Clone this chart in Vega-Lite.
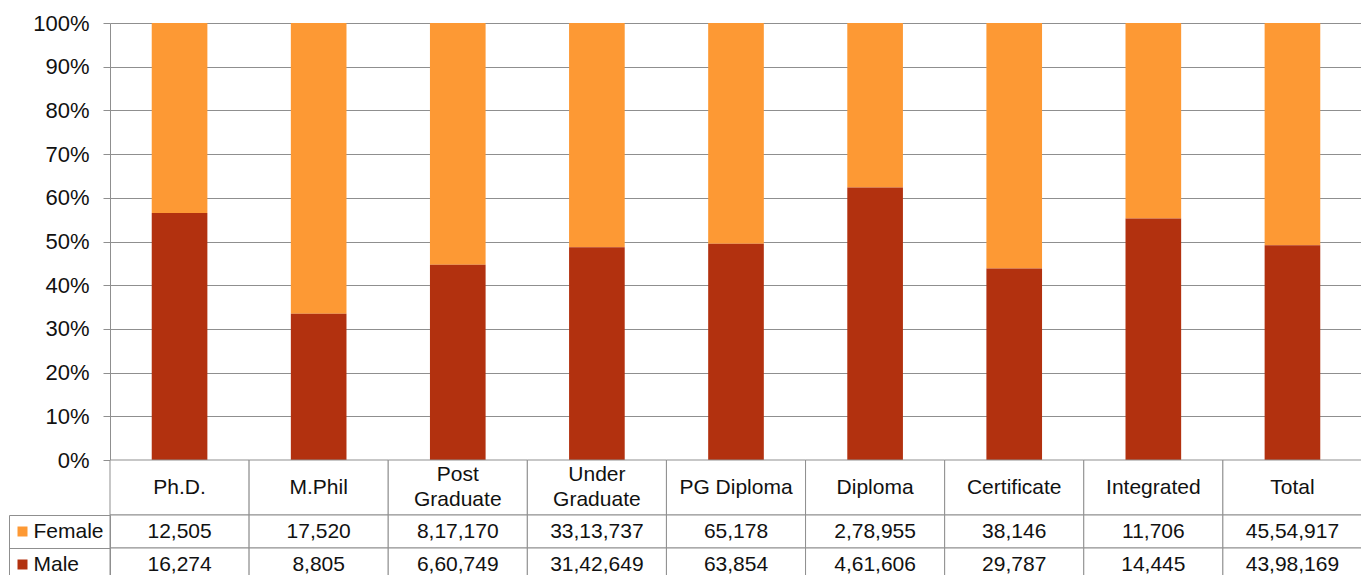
{
  "$schema": "https://vega.github.io/schema/vega-lite/v6.json",
  "padding": {"left": 8, "top": 12, "right": 0, "bottom": 0},
  "autosize": {"type": "pad"},
  "background": "white",
  "config": {"font": "Liberation Sans", "view": {"stroke": null}},
  "data": {
    "values": [
      {"category": "Ph.D.", "sex": "Female", "students": 12505},
      {"category": "Ph.D.", "sex": "Male", "students": 16274},
      {"category": "M.Phil", "sex": "Female", "students": 17520},
      {"category": "M.Phil", "sex": "Male", "students": 8805},
      {"category": "Post Graduate", "sex": "Female", "students": 817170},
      {"category": "Post Graduate", "sex": "Male", "students": 660749},
      {"category": "Under Graduate", "sex": "Female", "students": 3313737},
      {"category": "Under Graduate", "sex": "Male", "students": 3142649},
      {"category": "PG\u00a0Diploma", "sex": "Female", "students": 65178},
      {"category": "PG\u00a0Diploma", "sex": "Male", "students": 63854},
      {"category": "Diploma", "sex": "Female", "students": 278955},
      {"category": "Diploma", "sex": "Male", "students": 461606},
      {"category": "Certificate", "sex": "Female", "students": 38146},
      {"category": "Certificate", "sex": "Male", "students": 29787},
      {"category": "Integrated", "sex": "Female", "students": 11706},
      {"category": "Integrated", "sex": "Male", "students": 14445},
      {"category": "Total", "sex": "Female", "students": 4554917},
      {"category": "Total", "sex": "Male", "students": 4398169}
    ]
  },
  "spacing": 0,
  "bounds": "flush",
  "vconcat": [
    {
      "width": 1252,
      "height": 437,
      "mark": {"type": "bar", "width": {"band": 0.4}},
      "encoding": {
        "x": {"field": "category", "type": "nominal", "sort": null, "scale": {"paddingInner": 0, "paddingOuter": 0}, "axis": null},
        "y": {
          "field": "students", "type": "quantitative", "stack": "normalize",
          "scale": {"domain": [0, 1]},
          "axis": {
            "title": null, "format": "%", "values": [0, 0.1, 0.2, 0.3, 0.4, 0.5, 0.6, 0.7, 0.8, 0.9, 1],
            "grid": true, "gridColor": "#8f8f8f", "domainColor": "#8f8f8f", "tickColor": "#8f8f8f",
            "tickSize": 7, "labelPadding": 14, "labelFontSize": 22, "labelColor": "#111"
          }
        },
        "color": {"field": "sex", "type": "nominal", "scale": {"domain": ["Female", "Male"], "range": ["#FD9934", "#B2310F"]}, "legend": null},
        "order": {"field": "sex", "sort": "descending"}
      }
    },
    {
      "width": 1252,
      "height": 55,
      "transform": [{"filter": "datum.sex === 'Female'"}],
      "encoding": {
        "x": {"field": "category", "type": "nominal", "sort": null, "scale": {"paddingInner": 0, "paddingOuter": 0}, "axis": null}
      },
      "layer": [
        {"mark": {"type": "rect", "fill": "white", "stroke": "#8f8f8f", "strokeWidth": 1}},
        {
          "transform": [{"filter": "indexof(datum.category, ' ') < 0"}],
          "mark": {"type": "text", "fontSize": 21, "color": "#111"},
          "encoding": {"text": {"field": "category"}}
        },
        {
          "transform": [{"filter": "indexof(datum.category, ' ') >= 0"}],
          "mark": {"type": "text", "fontSize": 21, "lineBreak": " ", "lineHeight": 25, "dy": -12.5, "color": "#111"},
          "encoding": {"text": {"field": "category"}}
        }
      ]
    },
    {
      "width": 1252,
      "height": 66,
      "transform": [{"calculate": "replace(format(datum.students, 'd'), regexp('([0-9])(?=([0-9][0-9])+[0-9]$)', 'g'), '$1,')", "as": "label"}],
      "resolve": {"axis": {"y": "independent"}},
      "encoding": {
        "x": {"field": "category", "type": "nominal", "sort": null, "scale": {"paddingInner": 0, "paddingOuter": 0}, "axis": null}
      },
      "layer": [
        {
          "mark": {"type": "rect", "fill": "white", "stroke": "#8f8f8f", "strokeWidth": 1},
          "encoding": {
            "y": {"field": "sex", "type": "nominal", "sort": ["Female", "Male"], "scale": {"paddingInner": 0, "paddingOuter": 0},
              "axis": {"orient": "left", "title": null, "domainColor": "#8f8f8f", "tickColor": "#8f8f8f", "tickBand": "extent", "tickSize": 101,
                "labelAlign": "left", "labelPadding": -24, "labelFontSize": 21, "labelColor": "#111"}}
          }
        },
        {
          "mark": {"type": "text", "fontSize": 21, "color": "#111"},
          "encoding": {
            "y": {"field": "sex", "type": "nominal", "sort": ["Female", "Male"], "scale": {"paddingInner": 0, "paddingOuter": 0},
              "axis": {"orient": "left", "title": null, "domain": false, "labels": false, "offset": 83, "tickSize": 10, "tickWidth": 10,
                "tickColor": {"condition": {"test": "datum.value === 'Female'", "value": "#FD9934"}, "value": "#B2310F"}}},
            "text": {"field": "label"}
          }
        },
        {
          "mark": {"type": "rect", "opacity": 0},
          "encoding": {
            "y": {"field": "sex", "type": "nominal", "sort": ["Female", "Male"], "scale": {"paddingInner": 0, "paddingOuter": 0},
              "axis": {"orient": "left", "title": null, "offset": 101, "domainColor": "#8f8f8f", "ticks": false, "labels": false}}
          }
        }
      ]
    }
  ]
}
